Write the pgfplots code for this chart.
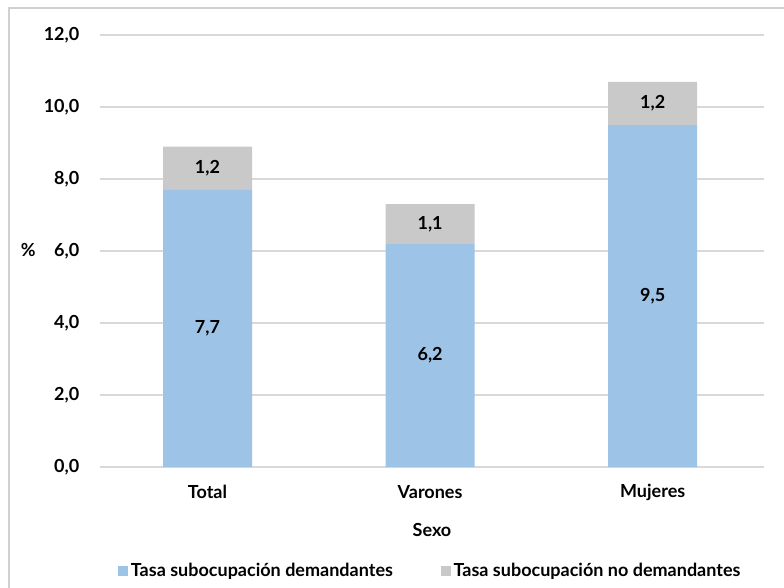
\documentclass[border=0pt]{standalone}
\usepackage{pgfplots}
\usepackage{pgfplotstable}
\pgfplotsset{compat=1.18}
\usepackage{fontspec}
\setmainfont{Lato}
\definecolor{cblue}{HTML}{9DC3E6}
\definecolor{cgray}{HTML}{C9C9C9}
\definecolor{cgrid}{HTML}{D9D9D9}
\definecolor{cborder}{HTML}{D0D0D0}
\pgfplotstableread{
x v
0 7.7
1 6.2
2 9.5
}\demand
\pgfplotstableread{
x v
0 1.2
1 1.1
2 1.2
}\nodemand
\begin{document}
\begin{tikzpicture}
\useasboundingbox (0pt,0pt) rectangle (588pt,440.25pt);
\draw[cborder, line width=1.5pt] (6.75pt,-5pt) -- (6.75pt,434.25pt) -- (595pt,434.25pt);
\begin{axis}[
  at={(75pt,90pt)}, anchor=south west,
  scale only axis, width=498pt, height=324pt,
  xmin=-0.483, xmax=2.5, ymin=0, ymax=12,
  ytick={0,2,4,6,8,10,12},
  xtick={0,1,2}, xticklabels={Total,Varones,Mujeres},
  axis line style={draw=none},
  ymajorgrids, grid style={cgrid, line width=0.8pt},
  major tick length=0pt,
  font=\fontsize{13.5}{16}\selectfont\bfseries,
  /pgf/number format/assume math mode=true,
  yticklabel={\pgfmathprintnumber[fixed,fixed zerofill,precision=1,use comma]{\tick}},
  ytick style={draw=none}, xtick style={draw=none},
  yticklabel style={anchor=east, xshift=-12pt},
  xticklabel style={anchor=center, yshift=-18.75pt},
  xlabel={Sexo}, xlabel style={at={(axis description cs:0.5,-0.146)}, anchor=center},
  ylabel={\%}, ylabel style={at={(axis description cs:-0.108,0.502)}, anchor=center, rotate=-90},
  ybar stacked, bar width=66.75pt,
  point meta=explicit,
  nodes near coords={\pgfmathprintnumber[fixed,fixed zerofill,precision=1,use comma]{\pgfplotspointmeta}},
  every node near coord/.append style={anchor=center, font=\fontsize{13.5}{16}\selectfont\bfseries, text=black},
  legend style={at={(axis description cs:0.498,-0.241)}, anchor=center, draw=none, fill=none, legend columns=2,
    font=\fontsize{13.5}{16}\selectfont\bfseries,
    /tikz/every even column/.append style={column sep=34pt}},
  legend cell align=left,
  legend image code/.code={\fill[#1] (0pt,-3.75pt) rectangle (7.5pt,3.75pt);},
  clip=false,
]
\addplot[fill=cblue, draw=none] table[x=x, y=v, meta=v] {\demand};
\addplot[fill=cgray, draw=none] table[x=x, y=v, meta=v] {\nodemand};
\legend{Tasa subocupación demandantes, Tasa subocupación no demandantes}
\end{axis}
\end{tikzpicture}
\end{document}
